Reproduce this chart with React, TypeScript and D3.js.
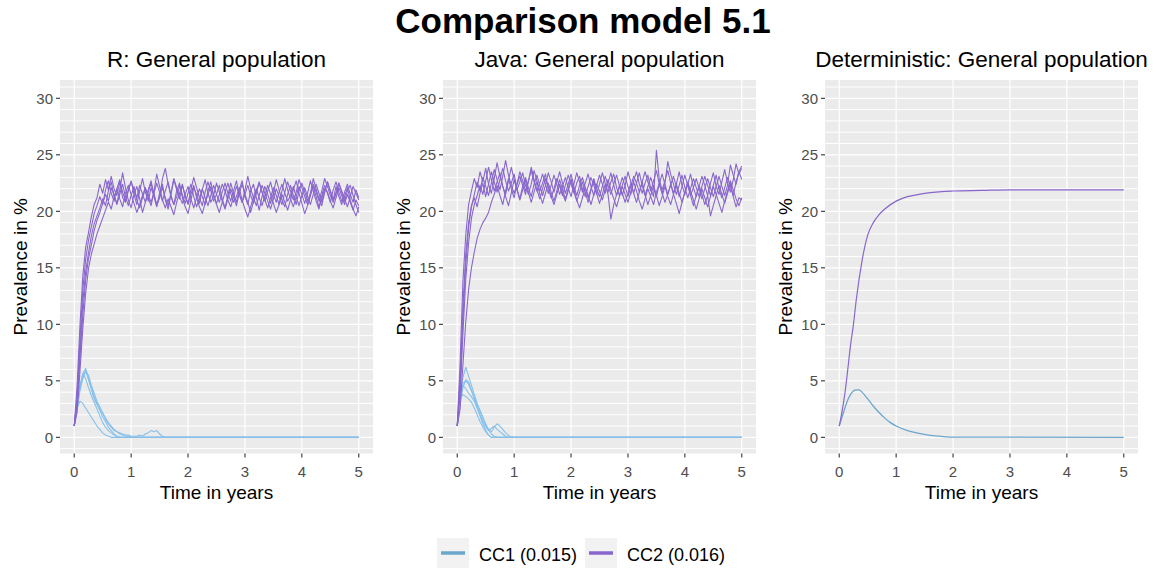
import React from "react";
import * as d3 from "d3";

// ---------- labels ----------
const MAIN_TITLE = "Comparison model 5.1";
const PANEL_TITLES = ["R: General population", "Java: General population", "Deterministic: General population"];
const X_TITLE = "Time in years";
const Y_TITLE = "Prevalence in %";
const SERIES_LABELS = ["CC1 (0.015)", "CC2 (0.016)"];
const X_TICKS = [0, 1, 2, 3, 4, 5];
const Y_TICKS = [0, 5, 10, 15, 20, 25, 30];
const Y_GRID = d3.range(-1, 32, 1);

const DT = 0.05;

const R_CC2_RUN1 = [1, 4.5, 9.8, 14.2, 16.8, 18.1, 19.5, 20.6, 21.2, 22.4, 21.6, 22.8, 21.9, 23.1, 22.0, 21.4, 22.6, 21.2, 20.8, 21.9, 22.7, 21.5, 20.6, 21.8, 22.9, 21.7, 20.9, 22.1, 21.3, 20.4, 21.6, 22.4, 21.0, 20.2, 21.5, 22.8, 21.9, 21.1, 22.3, 21.4, 20.7, 21.9, 23.0, 22.1, 21.2, 20.5, 21.7, 22.6, 21.8, 20.9, 21.5, 22.3, 21.1, 20.3, 21.4, 22.5, 21.6, 20.8, 21.9, 22.7, 21.3, 20.6, 21.8, 22.4, 21.2, 20.1, 21.3, 22.2, 21.5, 20.7, 21.6, 22.8, 21.9, 21.0, 20.4, 21.5, 22.3, 21.4, 20.6, 21.8, 22.5, 21.7, 20.9, 21.6, 22.9, 22.0, 21.1, 20.5, 21.7, 22.6, 21.8, 21.0, 22.2, 21.3, 20.6, 21.7, 22.4, 21.5, 20.8, 21.9, 21.2];
const R_CC2_RUN2 = [1, 2.8, 7.5, 11.9, 14.6, 16.3, 17.8, 18.9, 19.6, 20.3, 21.1, 20.5, 21.8, 22.6, 21.4, 20.7, 21.9, 23.4, 22.1, 21.0, 20.3, 21.5, 22.2, 21.1, 19.9, 20.8, 21.7, 22.5, 21.6, 20.5, 21.2, 22.9, 23.8, 22.4, 21.3, 20.6, 21.8, 22.5, 21.2, 20.4, 19.8, 21.0, 22.1, 21.5, 20.7, 21.9, 22.8, 21.6, 20.8, 21.4, 22.5, 21.7, 20.9, 20.2, 21.1, 22.0, 21.3, 20.5, 21.6, 22.4, 21.5, 20.8, 19.9, 20.9, 21.8, 22.6, 21.7, 21.0, 20.3, 21.2, 22.1, 21.4, 20.6, 21.8, 22.9, 21.9, 21.1, 20.4, 21.3, 22.2, 21.5, 20.7, 21.6, 22.7, 21.8, 20.9, 20.2, 21.4, 22.3, 21.6, 20.8, 21.9, 22.6, 21.7, 20.9, 21.3, 22.1, 21.0, 20.2, 19.6, 20.4];
const R_CC2_RUN3 = [1, 2.2, 5.8, 9.6, 12.7, 14.9, 16.2, 17.1, 18.0, 18.7, 19.4, 20.1, 20.8, 20.2, 21.3, 22.0, 21.1, 20.4, 21.6, 22.3, 21.5, 20.7, 19.9, 20.6, 21.4, 22.1, 21.2, 20.5, 21.7, 23.3, 22.2, 21.0, 20.3, 21.1, 20.4, 19.7, 20.8, 21.6, 22.4, 21.3, 20.6, 21.5, 22.3, 21.2, 20.4, 19.8, 20.7, 21.5, 22.2, 21.4, 20.6, 19.9, 20.8, 21.7, 22.5, 21.6, 20.8, 21.3, 22.1, 21.0, 20.2, 19.5, 20.4, 21.3, 22.0, 21.2, 20.5, 21.4, 22.3, 21.5, 20.7, 19.9, 20.6, 21.5, 20.8, 20.1, 21.0, 21.9, 22.7, 21.6, 20.7, 19.8, 20.5, 21.4, 22.2, 21.3, 20.4, 21.1, 22.0, 21.7, 20.9, 20.3, 21.2, 22.1, 21.4, 20.6, 21.5, 20.8, 20.1, 21.0, 20.5];
const R_CC2_RUN4 = [1, 3.5, 8.6, 13.0, 15.7, 17.4, 18.6, 19.8, 20.5, 21.3, 20.6, 21.9, 22.7, 21.6, 20.9, 22.0, 22.8, 21.7, 20.9, 21.8, 22.6, 21.9, 21.2, 22.3, 21.5, 20.8, 21.9, 22.7, 21.4, 20.6, 21.3, 22.1, 21.2, 20.5, 21.6, 22.9, 22.1, 21.3, 20.7, 21.5, 22.2, 21.1, 20.3, 21.2, 22.0, 21.3, 20.6, 21.8, 22.6, 21.4, 20.7, 21.5, 22.4, 21.8, 21.0, 20.4, 21.3, 22.2, 21.5, 20.8, 21.9, 23.1, 22.0, 21.2, 20.5, 21.4, 22.3, 21.6, 20.9, 20.2, 21.1, 22.0, 21.3, 20.6, 21.7, 22.6, 21.8, 21.0, 21.7, 22.8, 22.1, 21.3, 20.6, 21.5, 22.4, 21.7, 20.9, 21.8, 22.9, 22.2, 21.4, 20.8, 21.6, 22.5, 21.8, 21.1, 20.4, 21.3, 22.2, 21.6, 21.0];
const R_CC2_RUN5 = [1, 3.1, 6.9, 10.8, 13.9, 15.8, 17.0, 18.3, 19.2, 19.9, 20.7, 21.5, 20.9, 22.1, 21.4, 20.6, 21.5, 22.4, 21.3, 20.5, 21.4, 22.2, 21.0, 20.3, 21.2, 22.0, 21.5, 20.8, 21.6, 22.5, 21.7, 20.9, 21.8, 22.6, 21.4, 20.6, 21.3, 22.2, 21.5, 20.7, 21.6, 22.4, 21.3, 20.4, 21.1, 22.0, 21.2, 20.5, 21.4, 22.3, 21.5, 20.8, 21.7, 22.5, 21.6, 20.9, 21.8, 22.7, 21.5, 20.8, 21.5, 22.3, 21.4, 20.7, 21.6, 22.5, 21.7, 20.9, 21.8, 22.6, 21.5, 20.8, 21.7, 22.4, 21.6, 20.9, 21.4, 22.2, 21.3, 20.5, 21.4, 22.1, 21.3, 20.6, 21.5, 22.4, 21.6, 20.8, 21.7, 22.6, 21.8, 21.0, 21.6, 22.5, 21.7, 20.9, 21.8, 22.3, 21.4, 20.6, 19.9];

const J_CC2_RUN1 = [1, 6.5, 13.8, 17.9, 20.6, 21.8, 22.9, 22.1, 23.5, 22.6, 23.8, 22.4, 21.6, 22.9, 24.3, 23.1, 22.2, 21.5, 22.7, 23.9, 22.8, 21.9, 22.6, 23.4, 22.3, 21.5, 22.4, 23.6, 22.7, 21.8, 22.5, 23.3, 22.1, 21.2, 22.0, 22.9, 22.2, 21.4, 22.3, 23.2, 22.4, 21.6, 22.5, 23.1, 22.0, 21.3, 22.2, 23.0, 22.3, 21.5, 22.4, 23.4, 22.5, 21.7, 22.6, 23.3, 22.1, 21.4, 22.3, 23.1, 22.2, 21.5, 22.7, 23.5, 22.4, 21.6, 22.5, 23.2, 22.0, 21.3, 25.4, 22.8, 21.9, 22.7, 23.6, 22.5, 21.6, 22.4, 23.5, 22.3, 21.5, 22.4, 23.3, 22.1, 21.3, 22.2, 23.1, 22.3, 21.4, 22.5, 23.4, 22.2, 21.5, 22.6, 23.7, 22.5, 21.7, 22.8, 24.2, 23.3, 23.8];
const J_CC2_RUN2 = [1, 4.2, 10.5, 15.3, 18.6, 20.4, 21.5, 22.6, 21.8, 23.0, 22.2, 21.4, 22.5, 23.7, 22.8, 21.9, 23.1, 24.5, 23.2, 22.3, 21.6, 22.4, 23.5, 22.7, 21.8, 22.6, 23.9, 22.8, 21.9, 21.1, 22.0, 22.9, 22.1, 21.3, 20.6, 21.5, 22.4, 21.6, 20.9, 21.8, 22.7, 21.9, 21.0, 20.3, 21.2, 22.1, 21.4, 20.6, 21.5, 22.4, 21.8, 21.0, 21.9, 22.8, 21.9, 21.1, 20.4, 21.3, 22.2, 21.5, 20.8, 21.7, 22.6, 21.8, 20.9, 20.2, 21.1, 22.0, 21.3, 20.6, 21.7, 22.5, 21.6, 20.8, 21.5, 22.4, 21.5, 20.7, 19.8, 20.8, 21.7, 22.6, 21.8, 21.0, 20.2, 21.1, 22.0, 21.2, 20.4, 21.3, 22.2, 21.5, 20.7, 19.9, 20.9, 21.8, 22.7, 21.9, 21.1, 20.5, 21.2];
const J_CC2_RUN3 = [1, 2.5, 6.4, 10.2, 13.1, 15.0, 16.4, 17.6, 18.4, 19.0, 19.4, 19.9, 20.8, 21.5, 22.3, 21.4, 20.6, 21.8, 22.9, 22.0, 21.2, 22.4, 23.1, 22.3, 21.5, 22.7, 23.6, 22.6, 21.8, 22.5, 23.3, 22.4, 21.6, 22.3, 23.2, 22.4, 21.5, 22.2, 23.0, 22.1, 21.3, 22.4, 23.4, 22.6, 21.7, 22.5, 23.3, 22.2, 21.4, 22.3, 23.2, 22.4, 21.6, 22.5, 23.4, 22.3, 21.4, 22.1, 23.0, 22.2, 21.3, 22.2, 23.1, 22.5, 21.7, 22.6, 23.5, 22.6, 21.8, 22.7, 23.6, 22.4, 21.6, 22.5, 24.4, 23.3, 22.4, 21.5, 22.3, 23.2, 22.1, 21.2, 22.0, 22.9, 22.1, 21.3, 22.2, 23.1, 22.3, 21.4, 22.3, 23.2, 22.0, 21.2, 22.1, 23.0, 22.2, 21.4, 22.6, 23.5, 22.8];
const J_CC2_RUN4 = [1, 3.8, 9.2, 14.0, 17.2, 19.4, 20.6, 21.4, 22.3, 21.5, 22.7, 23.9, 22.8, 21.8, 22.6, 23.4, 22.2, 21.3, 20.5, 21.6, 22.8, 21.9, 21.0, 21.9, 22.8, 21.7, 20.8, 21.7, 22.6, 21.5, 20.7, 21.6, 22.5, 21.7, 20.9, 21.8, 22.8, 21.9, 21.1, 22.0, 22.9, 21.8, 20.9, 21.7, 22.6, 21.7, 20.8, 21.9, 22.7, 21.6, 20.7, 21.5, 22.4, 21.5, 19.3, 20.6, 21.5, 22.3, 21.6, 20.8, 21.6, 22.5, 21.6, 20.8, 21.7, 22.6, 21.5, 20.6, 21.4, 22.3, 21.4, 20.5, 21.3, 22.2, 21.3, 20.6, 21.5, 22.4, 21.6, 20.8, 21.7, 22.5, 21.4, 20.5, 21.4, 22.3, 21.5, 20.6, 21.4, 19.6, 20.5, 21.4, 22.3, 21.5, 20.7, 21.6, 22.5, 21.3, 20.4, 21.2, 21.0];
const J_CC2_RUN5 = [1, 5.1, 11.6, 16.2, 19.0, 20.5, 21.2, 20.4, 21.6, 22.5, 21.3, 22.4, 23.5, 22.6, 21.7, 22.8, 23.8, 22.7, 21.8, 22.5, 23.3, 22.0, 21.1, 22.2, 23.0, 22.1, 21.3, 22.4, 23.2, 22.3, 21.4, 22.3, 23.4, 22.6, 21.7, 22.6, 23.5, 22.5, 21.6, 22.4, 23.3, 22.2, 21.4, 22.3, 23.0, 22.1, 21.2, 22.0, 22.9, 22.0, 21.3, 22.2, 23.1, 22.3, 21.5, 22.4, 23.2, 22.3, 21.4, 22.3, 23.5, 22.6, 21.6, 22.5, 23.4, 22.3, 21.4, 22.2, 23.0, 22.1, 21.3, 22.4, 23.3, 22.4, 21.5, 22.3, 23.1, 22.2, 21.3, 22.2, 23.2, 22.3, 21.4, 22.1, 22.9, 22.0, 21.1, 22.0, 22.9, 22.1, 21.3, 22.2, 23.1, 22.2, 21.4, 22.3, 24.1, 23.2, 22.4, 23.5, 24.0];

// CC1 runs: values until extinction (then 0 until t = 5)
const R_CC1_RUN1 = [1, 2.9, 4.6, 5.6, 6.1, 5.3, 4.5, 3.6, 3.0, 2.4, 1.8, 1.4, 0.9, 0.6, 0.3, 0.1, 0];
const R_CC1_RUN2 = [1, 2.4, 4.1, 5.2, 5.8, 5.5, 4.6, 3.9, 3.2, 2.7, 2.1, 1.6, 1.2, 0.9, 0.6, 0.5, 0.3, 0.2, 0.1, 0.1, 0];
const R_CC1_RUN3 = [1, 2.6, 3.2, 3.0, 2.6, 2.2, 1.8, 1.4, 1.0, 0.7, 0.4, 0.2, 0.1, 0];
const R_CC1_RUN4 = [1, 2.7, 4.3, 5.4, 5.9, 5.1, 4.2, 3.4, 2.9, 2.5, 2.2, 1.7, 1.3, 1.0, 0.7, 0.5, 0.4, 0.3, 0.2, 0.2, 0.1, 0.1, 0.1, 0.2, 0.1, 0.3, 0.4, 0.6, 0.5, 0.6, 0.3, 0.1, 0];
const R_CC1_RUN5 = [1, 2.8, 4.4, 5.6, 5.2, 4.4, 3.7, 3.1, 2.5, 1.9, 1.3, 0.9, 0.6, 0.4, 0.2, 0.1, 0];

const J_CC1_RUN1 = [1, 3.5, 5.3, 6.2, 5.4, 4.6, 3.8, 3.0, 2.4, 1.8, 1.2, 0.7, 0.3, 0.1, 0];
const J_CC1_RUN2 = [1, 3.3, 4.8, 5.0, 4.7, 4.1, 3.5, 2.9, 2.3, 1.7, 1.1, 0.7, 0.5, 0.9, 1.2, 1.0, 0.7, 0.4, 0.2, 0];
const J_CC1_RUN3 = [1, 3.4, 3.8, 3.6, 3.4, 3.1, 2.6, 2.0, 1.4, 0.9, 0.5, 0.2, 0];
const J_CC1_RUN4 = [1, 3.0, 4.4, 5.1, 4.9, 4.2, 3.4, 2.7, 2.0, 1.4, 0.9, 0.6, 0.8, 1.0, 0.7, 0.5, 0.3, 0.1, 0];
const J_CC1_RUN5 = [1, 3.2, 4.6, 4.3, 3.9, 3.6, 3.2, 2.6, 1.9, 1.2, 0.6, 0.2, 0];

// deterministic
const DET_CC2_TIME = [0, 0.05, 0.1, 0.15, 0.2, 0.25, 0.3, 0.4, 0.5, 0.6, 0.7, 0.8, 1.0, 1.2, 1.4, 1.6, 1.8, 2.0, 2.5, 3, 4, 5];
const DET_CC2 = [1, 2.3, 3.9, 6.0, 8.2, 10.0, 12.2, 15.6, 17.9, 19.0, 19.7, 20.2, 20.9, 21.3, 21.5, 21.65, 21.75, 21.8, 21.85, 21.9, 21.9, 21.9];
const DET_CC1_TIME = [0, 0.05, 0.1, 0.15, 0.2, 0.25, 0.3, 0.35, 0.4, 0.5, 0.6, 0.7, 0.8, 0.9, 1.0, 1.2, 1.4, 1.6, 1.8, 2.0, 5];
const DET_CC1 = [1, 1.8, 2.6, 3.3, 3.8, 4.1, 4.2, 4.2, 4.0, 3.4, 2.75, 2.2, 1.7, 1.3, 1.0, 0.6, 0.35, 0.18, 0.08, 0.02, 0];

// ---------- styling ----------
const W = 1166;
const H = 570;
const PANEL_LEFTS = [60, 443, 825];
const PANEL_W = 313;
const PANEL_TOP = 80;
const PANEL_BOTTOM = 453.5;
const COL_CC1 = "#6CA6CD";
const COL_CC1_RUN = "#86C0EA";
const COL_CC2 = "#8866CC";
const FONT = "'Liberation Sans', Arial, Helvetica, sans-serif";

type Pt = [number, number];

const fullRun = (vals: number[]): Pt[] => vals.map((v, i) => [i * 5 / (vals.length - 1), v]);
const extinctRun = (vals: number[]): Pt[] => {
  const pts: Pt[] = vals.map((v, i) => [i * DT, v]);
  pts.push([5, 0]);
  return pts;
};
const pairs = (t: number[], v: number[]): Pt[] => t.map((x, i) => [x, v[i]]);

type Panel = { cc1: Pt[][]; cc2: Pt[][]; smooth: boolean; cc1Col: string };

const PANELS: Panel[] = [
  {
    cc1: [R_CC1_RUN1, R_CC1_RUN2, R_CC1_RUN3, R_CC1_RUN4, R_CC1_RUN5].map(extinctRun),
    cc2: [R_CC2_RUN1, R_CC2_RUN2, R_CC2_RUN3, R_CC2_RUN4, R_CC2_RUN5].map(fullRun),
    smooth: false,
    cc1Col: COL_CC1_RUN,
  },
  {
    cc1: [J_CC1_RUN1, J_CC1_RUN2, J_CC1_RUN3, J_CC1_RUN4, J_CC1_RUN5].map(extinctRun),
    cc2: [J_CC2_RUN1, J_CC2_RUN2, J_CC2_RUN3, J_CC2_RUN4, J_CC2_RUN5].map(fullRun),
    smooth: false,
    cc1Col: COL_CC1_RUN,
  },
  {
    cc1: [pairs(DET_CC1_TIME, DET_CC1)],
    cc2: [pairs(DET_CC2_TIME, DET_CC2)],
    smooth: true,
    cc1Col: COL_CC1,
  },
];

function PanelView({ idx, panel }: { idx: number; panel: Panel }) {
  const left = PANEL_LEFTS[idx];
  const x = d3.scaleLinear().domain([-0.25, 5.25]).range([left, left + PANEL_W]);
  const y = d3.scaleLinear().domain([-1.43, 31.62]).range([PANEL_BOTTOM, PANEL_TOP]);
  const line = d3
    .line<Pt>()
    .x((d) => x(d[0]))
    .y((d) => y(d[1]))
    .curve(panel.smooth ? d3.curveMonotoneX : d3.curveLinear);
  const cx = left + PANEL_W / 2;
  const cy = (PANEL_TOP + PANEL_BOTTOM) / 2;
  return (
    <g>
      <text x={cx} y={67} textAnchor="middle" fontSize={22.5} fill="#000">
        {PANEL_TITLES[idx]}
      </text>
      <rect x={left} y={PANEL_TOP} width={PANEL_W} height={PANEL_BOTTOM - PANEL_TOP} fill="#EBEBEB" />
      <defs>
        <clipPath id={`clip${idx}`}>
          <rect x={left} y={PANEL_TOP} width={PANEL_W} height={PANEL_BOTTOM - PANEL_TOP} />
        </clipPath>
      </defs>
      {Y_GRID.map((v) => (
        <line key={`gy${v}`} x1={left} x2={left + PANEL_W} y1={y(v)} y2={y(v)} stroke="#fff" strokeWidth={v % 5 === 0 ? 1.2 : 1} />
      ))}
      {X_TICKS.map((v) => (
        <line key={`gx${v}`} x1={x(v)} x2={x(v)} y1={PANEL_TOP} y2={PANEL_BOTTOM} stroke="#fff" strokeWidth={1.2} />
      ))}
      <g clipPath={`url(#clip${idx})`} fill="none">
        {panel.cc1.map((run, i) => (
          <path key={`c1${i}`} d={line(run) || ""} stroke={panel.cc1Col} strokeWidth={panel.smooth ? 1.3 : 1.1} strokeLinejoin="round" />
        ))}
        {panel.cc2.map((run, i) => (
          <path key={`c2${i}`} d={line(run) || ""} stroke={COL_CC2} strokeWidth={panel.smooth ? 1.2 : 1.1} strokeLinejoin="round" />
        ))}
      </g>
      {Y_TICKS.map((v) => (
        <g key={`ty${v}`}>
          <line x1={left - 4} x2={left} y1={y(v)} y2={y(v)} stroke="#333" strokeWidth={1.1} />
          <text x={left - 7} y={y(v)} dy="0.36em" textAnchor="end" fontSize={15} fill="#4D4D4D">
            {v}
          </text>
        </g>
      ))}
      {X_TICKS.map((v) => (
        <g key={`tx${v}`}>
          <line x1={x(v)} x2={x(v)} y1={PANEL_BOTTOM} y2={PANEL_BOTTOM + 4} stroke="#333" strokeWidth={1.1} />
          <text x={x(v)} y={476.5} textAnchor="middle" fontSize={15} fill="#4D4D4D">
            {v}
          </text>
        </g>
      ))}
      <text x={cx} y={499} textAnchor="middle" fontSize={19} fill="#000">
        {X_TITLE}
      </text>
      <text transform={`translate(${left - 33},${cy}) rotate(-90)`} textAnchor="middle" fontSize={19} fill="#000">
        {Y_TITLE}
      </text>
    </g>
  );
}

export default function App() {
  const legendKeys = [
    { x: 437, label: SERIES_LABELS[0], color: COL_CC1 },
    { x: 585, label: SERIES_LABELS[1], color: COL_CC2 },
  ];
  return (
    <svg width={W} height={H} style={{ position: "absolute", left: 0, top: 0, background: "#fff" }} fontFamily={FONT}>
      <rect width={W} height={H} fill="#fff" />
      <text x={W / 2} y={33} textAnchor="middle" fontSize={35} fontWeight="bold" fill="#000">
        {MAIN_TITLE}
      </text>
      {PANELS.map((p, i) => (
        <PanelView key={i} idx={i} panel={p} />
      ))}
      {legendKeys.map((k) => (
        <g key={k.label}>
          <rect x={k.x} y={538} width={32} height={30} fill="#F2F2F2" />
          <line x1={k.x + 4} x2={k.x + 28} y1={553} y2={553} stroke={k.color} strokeWidth={3.5} />
          <text x={k.x + 42} y={561} fontSize={18} fill="#000">
            {k.label}
          </text>
        </g>
      ))}
    </svg>
  );
}
